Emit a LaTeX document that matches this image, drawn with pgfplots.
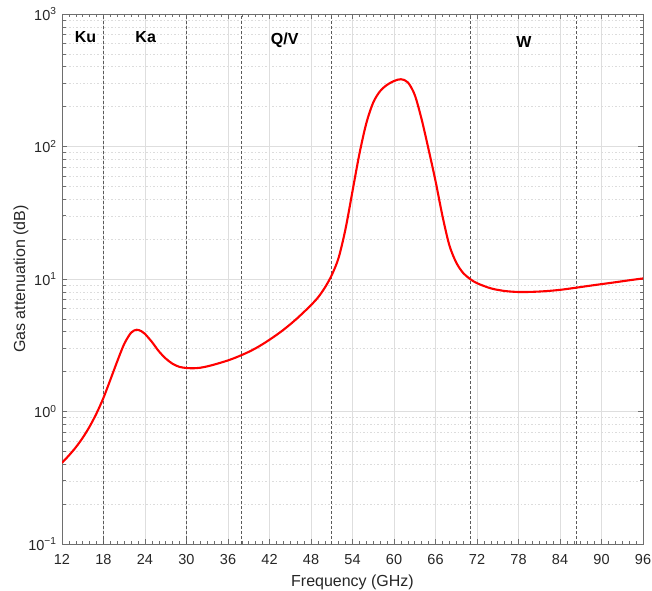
\documentclass[border=0pt]{standalone}
\usepackage{fontspec}
\setmainfont{Liberation Sans}
\usepackage{pgfplots}
\pgfplotsset{compat=1.18}

\definecolor{axgray}{RGB}{110,110,110}
\definecolor{txtgray}{RGB}{38,38,38}
\definecolor{gridgray}{RGB}{222,222,222}
\definecolor{minorgray}{RGB}{220,220,220}
\definecolor{bandline}{RGB}{90,90,90}

% total gaseous attenuation along the path, dB
\pgfplotstableread{
f      att
12     0.41
13     0.466
14     0.537
15     0.634
16     0.771
17     0.970
18     1.27
19     1.74
20     2.40
21     3.24
22     3.94
22.8   4.14
23.5   4.03
24     3.85
25     3.35
26     2.85
27     2.51
28     2.29
29     2.17
30     2.13
31     2.12
32     2.14
33     2.19
34     2.26
35     2.34
36     2.43
37     2.54
38     2.67
39     2.82
40     3.00
41     3.22
42     3.48
43     3.78
44     4.13
45     4.55
46     5.05
47     5.65
48     6.35
49     7.25
50     8.6
51     10.7
52     14.5
53     24
54     46
55     88
56     150
57     215
58     262
59     292
60     312
61     322
62     305
63     245
64     160
65     95
66     55
67     30
68     18
69     13.3
70     11.1
71     10.0
72     9.30
74     8.50
76     8.12
78     7.98
80     8.00
82     8.10
84     8.28
86     8.55
88     8.85
90     9.15
92     9.45
94     9.78
96     10.1
}\gasatt

\begin{document}
\begin{tikzpicture}
\begin{axis}[
  scale only axis,
  width=581bp, height=530bp,
  xmin=12, xmax=96,
  ymode=log, log basis y=10,
  ymin=0.1, ymax=1000,
  xtick={12,18,...,96},
  xticklabels={12,18,24,30,36,42,48,54,60,66,72,78,84,90,96},
  minor xtick={13,14,15,16,17,19,20,21,22,23,25,26,27,28,29,31,32,33,34,35,37,38,39,40,41,43,44,45,46,47,49,50,51,52,53,55,56,57,58,59,61,62,63,64,65,67,68,69,70,71,73,74,75,76,77,79,80,81,82,83,85,86,87,88,89,91,92,93,94,95},
  ytick={0.1,1,10,100,1000},
  yticklabels={10\textsuperscript{−1},10\textsuperscript{0},10\textsuperscript{1},10\textsuperscript{2},10\textsuperscript{3}},
  minor ytick={0.2,0.3,0.4,0.5,0.6,0.7,0.8,0.9,2,3,4,5,6,7,8,9,20,30,40,50,60,70,80,90,200,300,400,500,600,700,800,900},
  tick align=inside,
  major tick length=5bp,
  minor tick length=3.5bp,
  xmajorgrids, ymajorgrids, yminorgrids, xminorgrids=false,
  major grid style={gridgray, line width=0.7pt},
  minor grid style={minorgray, line width=0.5pt, dash pattern=on 1.5bp off 2bp},
  axis line style={axgray, line width=0.7pt},
  major tick style={axgray, line width=0.7pt},
  minor tick style={axgray, line width=0.6pt},
  ticklabel style={font=\fontsize{14.5bp}{16bp}\selectfont, text=txtgray},
  xticklabel style={yshift=-7bp},
  yticklabel style={xshift=-2bp},
  label style={font=\fontsize{16bp}{18bp}\selectfont, text=txtgray},
  xlabel={Frequency (GHz)},
  ylabel={Gas attenuation (dB)},
  xlabel style={yshift=-3bp},
  ylabel style={yshift=-7bp},
  clip=true,
]
% band edges
\addplot[bandline, line width=0.6pt, dash pattern=on 3bp off 2bp] coordinates {(18,0.1) (18,1000)};
\addplot[bandline, line width=0.6pt, dash pattern=on 3bp off 2bp] coordinates {(30,0.1) (30,1000)};
\addplot[bandline, line width=0.6pt, dash pattern=on 3bp off 2bp] coordinates {(37.9,0.1) (37.9,1000)};
\addplot[bandline, line width=0.6pt, dash pattern=on 3bp off 2bp] coordinates {(50.9,0.1) (50.9,1000)};
\addplot[bandline, line width=0.6pt, dash pattern=on 3bp off 2bp] coordinates {(71,0.1) (71,1000)};
\addplot[bandline, line width=0.6pt, dash pattern=on 3bp off 2bp] coordinates {(86.4,0.1) (86.4,1000)};

\addplot[red, line width=2.1bp, smooth] table[x=f, y=att] {\gasatt};

\begin{scope}[font=\fontsize{16bp}{18bp}\selectfont\bfseries]
\node at (axis cs:15.4,665) {Ku};
\node at (axis cs:24.1,665) {Ka};
\node at (axis cs:44.2,636) {Q/V};
\node at (axis cs:78.8,615) {W};
\end{scope}
\end{axis}
\pgfresetboundingbox
\path ([xshift=-62bp,yshift=-47bp]current axis.south west) rectangle ([xshift=9bp,yshift=14bp]current axis.north east);
\end{tikzpicture}
\end{document}
